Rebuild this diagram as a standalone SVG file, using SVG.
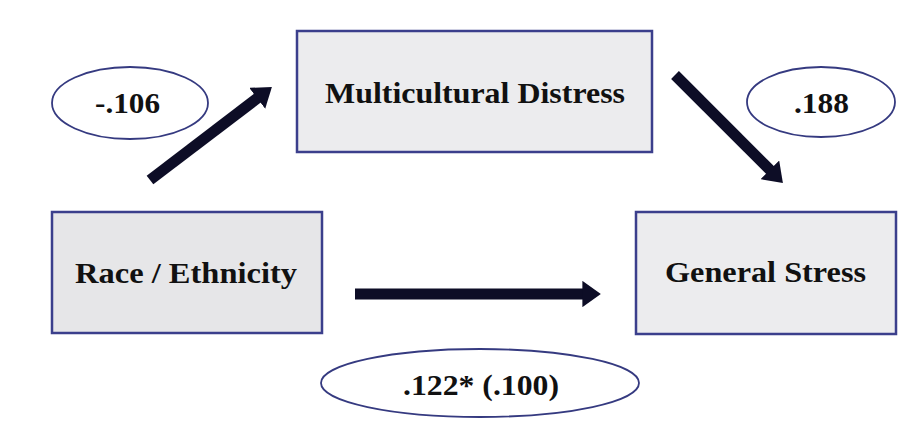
<svg xmlns="http://www.w3.org/2000/svg" width="920" height="430" viewBox="0 0 920 430">
<defs>
<style>
.box{fill:#ececee;stroke:#3b3f8c;stroke-width:2.5}
.ell{fill:#ffffff;stroke:#353a80;stroke-width:1.8}
.lbl{font-family:"Liberation Serif","Times New Roman","DejaVu Serif",serif;font-weight:bold;font-size:29px;fill:#111;text-anchor:middle}
.conn{stroke:#0d0d26;stroke-width:11;fill:none}
</style>
<marker id="ah" viewBox="0 0 7 10" refX="1" refY="5" markerWidth="1.7" markerHeight="2.4" orient="auto" markerUnits="strokeWidth">
<path d="M0,0 L7,5 L0,10 z" fill="#0d0d26"/>
</marker>
</defs>
<rect width="920" height="430" fill="#ffffff"/>
<g id="node-multicultural">
<rect class="box" x="297" y="31" width="355" height="121"/>
<text class="lbl" x="475" y="103" textLength="300" lengthAdjust="spacingAndGlyphs">Multicultural Distress</text>
</g>
<g id="node-race">
<rect class="box" x="52" y="212" width="270" height="121" style="fill:#e6e6e8"/>
<text class="lbl" x="186" y="283" textLength="222" lengthAdjust="spacingAndGlyphs">Race / Ethnicity</text>
</g>
<g id="node-stress">
<rect class="box" x="636" y="212" width="260" height="122"/>
<text class="lbl" x="765.5" y="282" textLength="201" lengthAdjust="spacingAndGlyphs">General Stress</text>
</g>
<g id="label-106">
<ellipse class="ell" cx="130" cy="103" rx="78" ry="36"/>
<text class="lbl" x="127.5" y="113" textLength="65" lengthAdjust="spacingAndGlyphs">-.106</text>
</g>
<g id="label-188">
<ellipse class="ell" cx="821" cy="102" rx="74" ry="35"/>
<text class="lbl" x="821.5" y="113" textLength="55" lengthAdjust="spacingAndGlyphs">.188</text>
</g>
<g id="label-122">
<ellipse class="ell" cx="480" cy="383" rx="159" ry="34"/>
<text class="lbl" x="481" y="395" textLength="156" lengthAdjust="spacingAndGlyphs">.122* (.100)</text>
</g>
<g id="connectors">
<line class="conn" x1="150" y1="180" x2="259.3" y2="96.7" marker-end="url(#ah)"/>
<line class="conn" x1="675" y1="75" x2="771.7" y2="171.7" marker-end="url(#ah)"/>
<line class="conn" x1="355" y1="294" x2="585" y2="294" marker-end="url(#ah)"/>
</g>
</svg>
